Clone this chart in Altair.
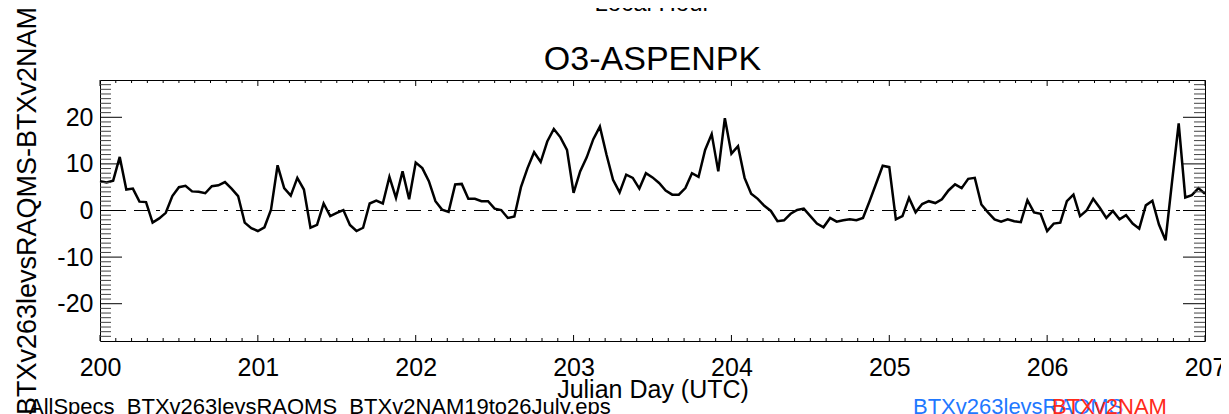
import altair as alt
import pandas as pd

# ---- data (hourly differences, Julian day 200..207) ----
hours = list(range(169))
values = [
    6.3, 6.0, 6.4, 11.5, 4.5, 4.7, 1.9, 1.8, -2.6, -1.7, -0.5, 3.1,
    5.0, 5.3, 4.1, 4.0, 3.7, 5.2, 5.4, 6.1, 4.7, 3.1, -2.6, -3.8,
    -4.4, -3.6, 0.2, 9.7, 4.8, 3.2, 7.0, 4.5, -3.7, -3.1, 1.5, -1.2,
    -0.5, 0.1, -3.1, -4.4, -3.7, 1.5, 2.1, 1.5, 7.2, 2.7, 8.4, 2.4,
    10.3, 9.1, 6.3, 2.0, 0.2, -0.3, 5.6, 5.7, 2.5, 2.5, 2.0, 2.0,
    0.4, 0.1, -1.6, -1.3, 5.0, 9.1, 12.5, 10.4, 14.8, 17.5, 15.7, 13.0,
    3.8, 8.4, 11.4, 15.3, 18.0, 12.0, 6.6, 3.9, 7.7, 7.0, 4.7, 8.0,
    7.1, 5.9, 4.3, 3.4, 3.4, 4.8, 8.0, 7.2, 13.0, 16.4, 8.4, 19.8,
    12.2, 13.8, 7.0, 3.6, 2.5, 1.0, -0.1, -2.3, -2.1, -0.7, 0.1, 0.4,
    -1.2, -2.8, -3.6, -1.6, -2.4, -2.1, -1.9, -2.1, -1.6, 2.0, 5.8, 9.6,
    9.3, -1.9, -1.2, 2.7, -0.4, 1.4, 2.0, 1.6, 2.4, 4.3, 5.6, 4.8,
    6.8, 7.0, 1.3, -0.4, -1.9, -2.4, -1.9, -2.3, -2.5, 2.2, -0.4, -0.7,
    -4.4, -2.8, -2.6, 2.0, 3.4, -1.2, 0.0, 2.5, 0.6, -1.6, -0.1, -1.9,
    -1.0, -2.8, -3.9, 1.1, 2.1, -3.0, -6.4, 6.3, 18.7, 2.8, 3.3, 4.8,
    3.6,
]
days = [200 + h / 24 for h in hours]

x_major = [200, 201, 202, 203, 204, 205, 206, 207]
x_minor = [round(200 + i * 0.1, 1) for i in range(71) if i % 10 != 0]
y_major = [-20, -10, 0, 10, 20]
y_minor = [v for v in range(-27, 28) if v % 10 != 0]

title_text = "O3-ASPENPK"
top_text = "Local Hour"
x_title = "Julian Day (UTC)"
y_title = "BTXv263levsRAQMS-BTXv2NAM"
file_text = "AllSpecs_BTXv263levsRAQMS_BTXv2NAM19to26July.eps"
legend_blue = "BTXv263levsRAQMS"
legend_red = "BTXv2NAM"

# ---- layout ----
W, H = 1105, 261
FONT = "Liberation Sans"
xs = alt.Scale(domain=[200, 207], nice=False, zero=False)
ys = alt.Scale(domain=[-28, 28], nice=False, zero=False)

x_axis = alt.Axis(
    values=x_major, labelExpr="'' + datum.value",
    labelFont=FONT, labelFontSize=25, labelColor="black",
    labelBaseline="alphabetic", labelPadding=34, labelFlush=False,
    labelOverlap=False, ticks=False, tickSize=0, domain=False, grid=False,
    title=x_title, titleFont=FONT, titleFontSize=25, titleFontWeight="normal",
    titleColor="black", titleX=W / 2, titleY=56, titleAlign="center",
    titleBaseline="alphabetic")
y_axis = alt.Axis(
    values=y_major,
    labelExpr="datum.value < 0 ? '-' + abs(datum.value) : '' + datum.value",
    labelFont=FONT, labelFontSize=25, labelColor="black",
    labelBaseline="middle", labelPadding=7, labelFlush=False,
    labelOverlap=False, ticks=False, tickSize=0, domain=False, grid=False,
    title=y_title, titleFont=FONT, titleFontSize=27, titleFontWeight="normal",
    titleColor="black", titleAngle=270, titleX=-65, titleY=H / 2,
    titleAlign="center", titleBaseline="alphabetic")

df = pd.DataFrame({"day": days, "diff": values})

line = alt.Chart(df).mark_line(color="black", strokeWidth=2.5).encode(
    x=alt.X("day:Q", scale=xs, axis=x_axis),
    y=alt.Y("diff:Q", scale=ys, axis=y_axis),
)

zero = alt.Chart(pd.DataFrame({"z": [0]})).mark_rule(
    color="black", strokeWidth=1, strokeDash=[15, 7, 4, 8]
).encode(y=alt.Y("z:Q", scale=ys, axis=y_axis), x=alt.value(0), x2=alt.value(W))


def xticks(vals, length):
    d = pd.DataFrame({"t": vals})
    base = alt.Chart(d).mark_rule(color="black", strokeWidth=1)
    enc = alt.X("t:Q", scale=xs, axis=x_axis)
    return [
        base.encode(x=enc, y=alt.value(0), y2=alt.value(length)),
        base.encode(x=enc, y=alt.value(H), y2=alt.value(H - length)),
    ]


def yticks(vals, length, color):
    d = pd.DataFrame({"t": vals})
    base = alt.Chart(d).mark_rule(color=color, strokeWidth=1)
    enc = alt.Y("t:Q", scale=ys, axis=y_axis)
    return [
        base.encode(y=enc, x=alt.value(0), x2=alt.value(length)),
        base.encode(y=enc, x=alt.value(W), x2=alt.value(W - length)),
    ]


def txt(s, x, y, size, color="black", align="center"):
    return alt.Chart(pd.DataFrame({"s": [s]})).mark_text(
        font=FONT, fontSize=size, color=color, align=align, baseline="alphabetic"
    ).encode(text="s:N", x=alt.value(x), y=alt.value(y))


layers = [line, zero]
layers += xticks(x_major, 6) + xticks(x_minor, 3)
layers += yticks(y_major, 22, "black") + yticks(y_minor, 11, "#444444")
layers += [
    txt(title_text, W / 2, -10, 34),
    txt(top_text, W / 2, -69, 24),
    txt(file_text, -71, 334, 22, align="left"),
    txt(legend_blue, 813, 334, 22, color="#1f78ff", align="left"),
    txt(legend_red, 952, 334, 22, color="#ff2a1a", align="left"),
]

chart = alt.layer(*layers).properties(
    width=W, height=H,
    autosize=alt.AutoSizeParams(type="none"),
    padding={"left": 92, "top": 72, "right": 16, "bottom": 73},
    background="white",
).configure_view(stroke="black", strokeWidth=1)

chart.save("out.html", embed_options={"renderer": "svg", "actions": False})
